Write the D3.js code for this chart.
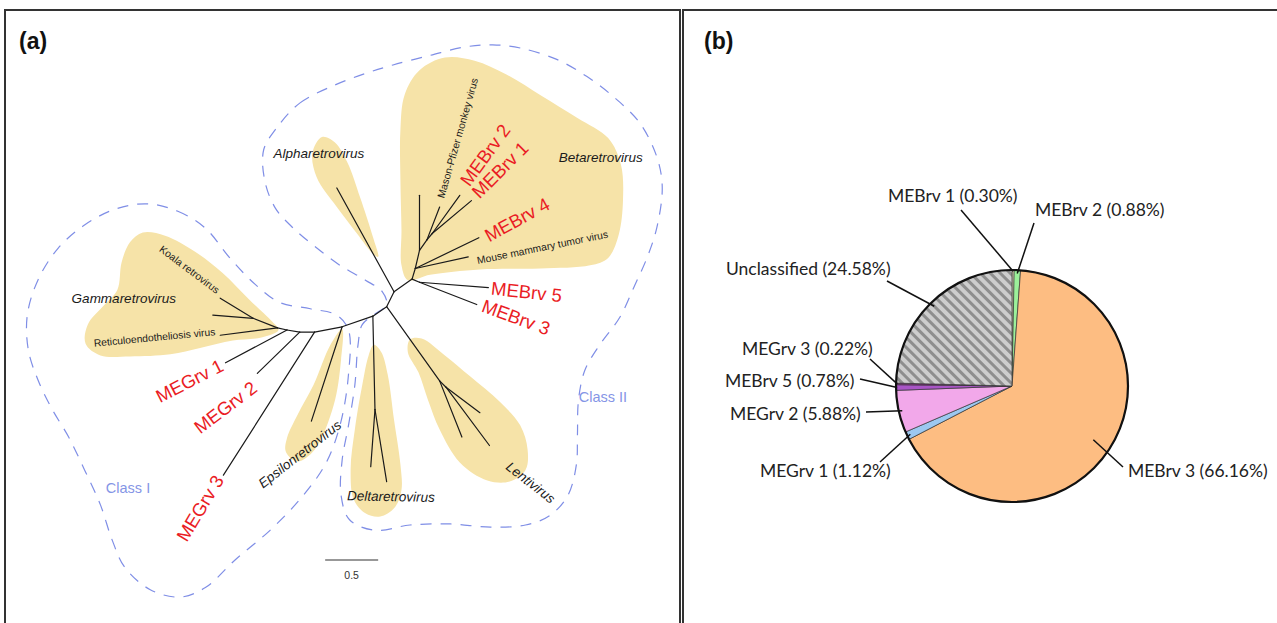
<!DOCTYPE html>
<html>
<head>
<meta charset="utf-8">
<script src="https://cdn.jsdelivr.net/npm/d3@7"></script>
<style>
body{margin:0;background:#fff;}
svg text{font-family:"Liberation Sans",Arial,sans-serif;}
.pielab{font-family:Lato,"Open Sans",sans-serif;font-size:17.5px;fill:#222;}
</style>
</head>
<body>
<svg id="fig" width="1277" height="623"></svg>
<script>
// ---- panel a : unrooted tree, coordinates in branch-length units ----
var treeNodes = [
 ["G",-1.09,-0.31],["Ga",-1.32,-0.22],["koala",-1.63,-0.03],["gmid",-1.70,-0.19],["retic",-1.63,-0.38],
 ["b1",-1.00,-0.33],["MEGrv1",-1.58,-0.64],
 ["b2",-0.88,-0.35],["MEGrv2",-1.28,-0.74],
 ["b3",-0.74,-0.35],["MEGrv3",-1.60,-1.70],
 ["b4",-0.48,-0.30],["eps",-0.77,-1.19],
 ["b5",-0.19,-0.20],["D1",-0.17,-1.08],["Da",-0.21,-1.62],["Db",-0.06,-1.76],
 ["b6",-0.06,-0.11],["L1",0.44,-0.81],["La",0.65,-1.34],["L2",0.50,-0.87],["Lb",0.82,-1.11],["Lc",0.91,-1.42],
 ["b7",0.01,0.03],["alpha",-0.53,1.01],
 ["b8",0.18,0.15],["R1",0.25,0.12],["MEBrv5",0.90,0.07],["MEBrv3",0.79,-0.09],
 ["B0",0.21,0.25],["MMTV",0.71,0.36],["MEBrv4",0.81,0.54],
 ["B1",0.25,0.42],["Btip",0.25,0.94],["B2",0.32,0.52],["MPMV",0.44,0.83],
 ["B3",0.37,0.58],["MEBrv2",0.63,0.94],["MEBrv1",0.74,0.89]
];
var treeEdges = [
 ["G","b1"],["b1","b2"],["b2","b3"],["b3","b4"],["b4","b5"],["b5","b6"],["b6","b7"],["b7","b8"],
 ["G","Ga"],["Ga","koala"],["Ga","gmid"],["G","retic"],
 ["b1","MEGrv1"],["b2","MEGrv2"],["b3","MEGrv3"],["b4","eps"],
 ["b5","D1"],["D1","Da"],["D1","Db"],
 ["b6","L1"],["L1","La"],["L1","L2"],["L2","Lb"],["L2","Lc"],
 ["b7","alpha"],["b8","R1"],["R1","MEBrv5"],["R1","MEBrv3"],
 ["b8","B0"],["B0","MMTV"],["B0","MEBrv4"],["B0","B1"],["B1","Btip"],["B1","B2"],
 ["B2","MPMV"],["B2","B3"],["B3","MEBrv2"],["B3","MEBrv1"]
];

// shaded genus areas (outline points)
var genusAreas = [
 [[-0.67,1.49],[-0.55,1.44],[-0.43,1.25],[-0.31,0.92],[-0.19,0.55],[-0.14,0.36],[-0.19,0.39],[-0.34,0.58],[-0.53,0.83],[-0.72,1.11],[-0.76,1.34]],
 [[0.11,1.89],[0.25,2.12],[0.49,2.24],[0.77,2.21],[1.07,2.08],[1.40,1.88],[1.74,1.67],[2.03,1.48],[2.15,1.23],[2.17,0.90],[2.13,0.57],[2.03,0.35],[1.86,0.28],[1.39,0.25],[0.82,0.24],[0.35,0.19],[0.14,0.14],[0.08,0.28],[0.08,0.61],[0.07,1.08],[0.07,1.56]],
 [[-2.36,0.59],[-2.15,0.56],[-1.87,0.41],[-1.61,0.21],[-1.35,-0.05],[-1.14,-0.25],[-1.08,-0.33],[-1.24,-0.40],[-1.51,-0.43],[-1.82,-0.50],[-2.10,-0.56],[-2.48,-0.58],[-2.76,-0.57],[-2.90,-0.46],[-2.88,-0.28],[-2.72,-0.09],[-2.60,0.05],[-2.56,0.31],[-2.48,0.50]],
 [[-0.48,-0.32],[-0.49,-0.61],[-0.56,-1.04],[-0.74,-1.46],[-0.90,-1.57],[-1.01,-1.48],[-1.00,-1.35],[-0.90,-1.13],[-0.75,-0.85],[-0.59,-0.47]],
 [[-0.18,-0.47],[-0.11,-0.54],[-0.05,-0.75],[0.01,-1.18],[0.07,-1.60],[0.08,-1.84],[0.02,-2.00],[-0.12,-2.09],[-0.26,-2.06],[-0.37,-1.93],[-0.40,-1.65],[-0.36,-1.27],[-0.29,-0.85],[-0.23,-0.57]],
 [[0.16,-0.42],[0.27,-0.41],[0.49,-0.57],[0.73,-0.77],[1.01,-1.01],[1.20,-1.23],[1.27,-1.46],[1.25,-1.65],[1.10,-1.76],[0.89,-1.75],[0.63,-1.58],[0.44,-1.27],[0.33,-0.99],[0.24,-0.73],[0.14,-0.54]]
];

// class boundaries
var classOutlines = [
 [[-2.32,0.86],[-2.03,0.79],[-1.77,0.63],[-1.54,0.35],[-1.30,0.10],[-1.07,-0.07],[-0.78,-0.13],[-0.53,-0.19],[-0.42,-0.33],[-0.42,-0.75],[-0.50,-1.23],[-0.64,-1.60],[-0.88,-1.93],[-1.16,-2.22],[-1.49,-2.50],[-1.77,-2.76],[-2.01,-2.85],[-2.29,-2.78],[-2.53,-2.57],[-2.65,-2.31],[-2.76,-1.98],[-2.91,-1.65],[-3.06,-1.34],[-3.22,-1.07],[-3.35,-0.80],[-3.44,-0.52],[-3.45,-0.19],[-3.35,0.14],[-3.16,0.44],[-2.91,0.66],[-2.62,0.81]],
 [[-1.11,1.56],[-0.88,1.81],[-0.55,1.98],[-0.26,2.09],[0.00,2.17],[0.35,2.26],[0.68,2.34],[0.94,2.36],[1.20,2.33],[1.55,2.22],[1.83,2.06],[2.08,1.87],[2.33,1.62],[2.49,1.30],[2.54,1.02],[2.49,0.64],[2.40,0.36],[2.28,0.09],[2.14,-0.21],[1.95,-0.47],[1.81,-0.71],[1.75,-0.99],[1.74,-1.32],[1.73,-1.60],[1.65,-1.89],[1.48,-2.08],[1.25,-2.17],[0.92,-2.19],[0.54,-2.16],[0.16,-2.17],[-0.17,-2.22],[-0.41,-2.12],[-0.49,-1.89],[-0.48,-1.56],[-0.42,-1.23],[-0.36,-0.85],[-0.33,-0.47],[-0.29,-0.28],[-0.17,-0.18],[-0.06,-0.09],[-0.10,0.03],[-0.26,0.14],[-0.50,0.28],[-0.74,0.46],[-0.94,0.63],[-1.11,0.82],[-1.21,1.08],[-1.22,1.37]]
];

// labels: text, style, anchor (tree units), rotation
var treeLabels = [
 ["Alpharetrovirus","genus",-0.70,1.34,0],
 ["Betaretrovirus","genus",1.96,1.30,0],
 ["Gammaretrovirus","genus",-2.54,-0.03,0],
 ["Epsilonretrovirus","genus",-0.88,-1.50,-38],
 ["Deltaretrovirus","genus",-0.02,-1.90,1],
 ["Lentivirus","genus",1.30,-1.77,38],
 ["Mason-Pfizer monkey virus","virus",0.61,1.48,-74],
 ["Mouse mammary tumor virus","virus",1.41,0.45,-11.5],
 ["Koala retrovirus","virus",-1.92,0.24,37],
 ["Reticuloendotheliosis virus","virus",-2.25,-0.40,-5.5],
 ["MEBrv 2","new",0.87,1.32,-54],
 ["MEBrv 1","new",1.01,1.18,-45],
 ["MEBrv 4","new",1.17,0.71,-29],
 ["MEBrv 5","new",1.26,0.03,6],
 ["MEBrv 3","new",1.16,-0.21,20],
 ["MEGrv 1","new",-1.92,-0.81,-27],
 ["MEGrv 2","new",-1.58,-1.06,-37],
 ["MEGrv 3","new",-1.82,-2.01,-59],
 ["Class I","cls",-2.50,-1.82,0],
 ["Class II","cls",1.98,-0.96,0]
];
var scaleBar = {value:0.5, x:-0.64, y:-2.5};

// ---- panel b : pie ----
var pieNames = ["MEBrv 1","MEBrv 2","MEBrv 3","MEGrv 1","MEGrv 2","MEBrv 5","MEGrv 3","Unclassified"];
var pieValues = [0.30,0.88,66.16,1.12,5.88,0.78,0.22,24.58];
var pieColors = ["#fbf3cf","#9cf09a","#fdbd82","#9cc8f0","#f2a8ea","#a955c6","#8e2a8c","url(#hatch)"];
// label layout relative to pie centre: text start, leader end, leader radius factor
var pieLabelPos = [
 [-124,-184,-51,-176,0.99],
 [23,-170,22,-163,0.97],
 [116,91,111,81,0.84],
 [-252,91,-132,76,0.97],
 [-282,34,-146,26,0.97],
 [-287,1,-152,-7,0.99],
 [-270,-31,-142,-27,0.99],
 [-286,-111,-125,-105,0.96]
];

var svg = d3.select("#fig");
var defs = svg.append("defs");
var pat = defs.append("pattern").attr("id","hatch").attr("patternUnits","userSpaceOnUse")
  .attr("width",7).attr("height",7).attr("patternTransform","rotate(-45)");
pat.append("rect").attr("width",7).attr("height",7).attr("fill","#cdcdcd");
pat.append("rect").attr("width",3).attr("height",7).attr("fill","#8e8e8e");

// panel frames
svg.append("rect").attr("x",5).attr("y",10).attr("width",675).attr("height",640)
  .attr("fill","none").attr("stroke","#333").attr("stroke-width",2);
svg.append("path").attr("d","M683,650V10H1290").attr("fill","none").attr("stroke","#333").attr("stroke-width",2);
svg.append("text").attr("x",19).attr("y",49).attr("font-size",23).attr("font-weight","bold").attr("fill","#111").text("(a)");
svg.append("text").attr("x",704).attr("y",49).attr("font-size",23).attr("font-weight","bold").attr("fill","#111").text("(b)");

// ---- tree ----
var x = d3.scaleLinear().domain([-3.7,2.7]).range([0.8,679.2]);
var y = d3.scaleLinear().domain([2.78,-3.0]).range([0.3,613]);
var gA = svg.append("g");

var blob = d3.line().x(function(d){return x(d[0]);}).y(function(d){return y(d[1]);}).curve(d3.curveCatmullRomClosed.alpha(0.5));
gA.selectAll(".area").data(genusAreas).enter().append("path")
  .attr("class","area").attr("d",blob).attr("fill","#f6e3a8").attr("stroke","none");

gA.selectAll(".cls").data(classOutlines).enter().append("path")
  .attr("class","cls").attr("d",blob).attr("fill","none")
  .attr("stroke","#7f8ee6").attr("stroke-width",1.2).attr("stroke-dasharray","11,9");

var nodeById = {};
treeNodes.forEach(function(n){ nodeById[n[0]] = n; });
gA.selectAll(".branch").data(treeEdges).enter().append("line")
  .attr("class","branch")
  .attr("x1",function(d){return x(nodeById[d[0]][1]);})
  .attr("y1",function(d){return y(nodeById[d[0]][2]);})
  .attr("x2",function(d){return x(nodeById[d[1]][1]);})
  .attr("y2",function(d){return y(nodeById[d[1]][2]);})
  .attr("stroke","#1a1a1a").attr("stroke-width",1.2).attr("stroke-linecap","round");

var labStyle = {
  genus:{size:13.5,fill:"#1a1a1a",italic:true},
  virus:{size:10.3,fill:"#1a1a1a",italic:false},
  "new":{size:18.5,fill:"#ea1c24",italic:false},
  cls:{size:14.5,fill:"#8595e6",italic:false}
};
gA.selectAll(".tlab").data(treeLabels).enter().append("text")
  .attr("class","tlab")
  .attr("transform",function(d){return "translate("+x(d[2])+","+y(d[3])+") rotate("+d[4]+")";})
  .attr("text-anchor","middle").attr("dy","0.35em")
  .attr("font-size",function(d){return labStyle[d[1]].size;})
  .attr("font-style",function(d){return labStyle[d[1]].italic?"italic":"normal";})
  .attr("font-family",function(d){return d[1]=="cls"?"Lato, 'Open Sans', sans-serif":null;})
  .attr("fill",function(d){return labStyle[d[1]].fill;})
  .text(function(d){return d[0];});

gA.append("line").attr("x1",x(scaleBar.x)).attr("x2",x(scaleBar.x+scaleBar.value))
  .attr("y1",y(scaleBar.y)).attr("y2",y(scaleBar.y)).attr("stroke","#333").attr("stroke-width",1.2);
gA.append("text").attr("x",x(scaleBar.x+scaleBar.value/2)).attr("y",y(scaleBar.y)+19)
  .attr("text-anchor","middle").attr("font-size",10.5).attr("fill","#333").text(scaleBar.value);

// ---- pie ----
var cx = 1012, cy = 386, R = 116;
var pie = d3.pie().sort(null).value(function(d){return d;});
var arcs = pie(pieValues);
var arc = d3.arc().innerRadius(0).outerRadius(R);
var gB = svg.append("g").attr("transform","translate("+cx+","+cy+")");
gB.selectAll(".slice").data(arcs).enter().append("path")
  .attr("class","slice").attr("d",arc)
  .attr("fill",function(d,i){return pieColors[i];})
  .attr("stroke","#333").attr("stroke-width",0.7).attr("stroke-linejoin","round");
gB.append("circle").attr("r",R).attr("fill","none").attr("stroke","#111").attr("stroke-width",2.2);

gB.selectAll(".lead").data(arcs).enter().append("line")
  .attr("class","lead")
  .attr("x1",function(d,i){return pieLabelPos[i][2];})
  .attr("y1",function(d,i){return pieLabelPos[i][3];})
  .attr("x2",function(d,i){var a=(d.startAngle+d.endAngle)/2;return Math.sin(a)*R*pieLabelPos[i][4];})
  .attr("y2",function(d,i){var a=(d.startAngle+d.endAngle)/2;return -Math.cos(a)*R*pieLabelPos[i][4];})
  .attr("stroke","#111").attr("stroke-width",1.5);

gB.selectAll(".pielab").data(arcs).enter().append("text")
  .attr("class","pielab")
  .attr("x",function(d,i){return pieLabelPos[i][0];})
  .attr("y",function(d,i){return pieLabelPos[i][1];})
  .text(function(d,i){return pieNames[i]+" ("+pieValues[i].toFixed(2)+"%)";});
</script>
</body>
</html>
